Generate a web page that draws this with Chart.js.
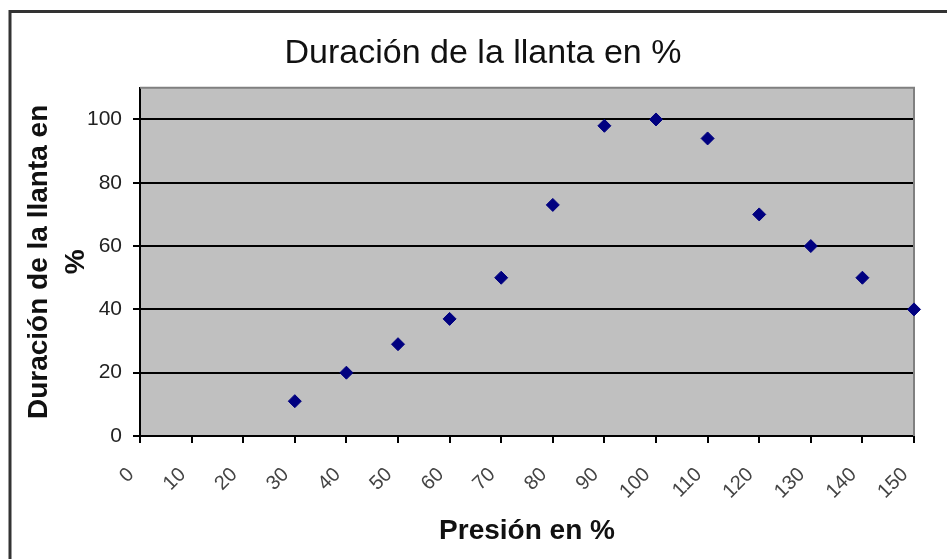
<!DOCTYPE html>
<html>
<head>
<meta charset="utf-8">
<script src="https://cdn.jsdelivr.net/npm/chart.js@4/dist/chart.umd.min.js"></script>
<style>
  html, body { margin: 0; padding: 0; background: #ffffff; }
  #wrap { width: 947px; height: 559px; }
</style>
</head>
<body>
<div id="wrap"><canvas id="c" width="947" height="559"></canvas></div>
<script>
// ---- data ----
const presion = [30, 40, 50, 60, 70, 80, 90, 100, 110, 120, 130, 140, 150];
const duracion = [11, 20, 29, 37, 50, 73, 98, 100, 94, 70, 60, 50, 40];
const xTickValues = [0, 10, 20, 30, 40, 50, 60, 70, 80, 90, 100, 110, 120, 130, 140, 150];
const yTickValues = [0, 20, 40, 60, 80, 100];
const chartTitle = 'Duración de la llanta en %';
const yTitle = ['Duración de la llanta en', '%'];
const xTitle = 'Presión en %';

const points = presion.map((p, i) => ({ x: p, y: duracion[i] }));

const framePlugin = {
  id: 'frame',
  beforeDraw(chart) {
    const { ctx, chartArea: a } = chart;
    ctx.save();
    ctx.fillStyle = '#ffffff';
    ctx.fillRect(0, 0, chart.width, chart.height);
    ctx.strokeStyle = '#333333';
    ctx.lineWidth = 3;
    ctx.strokeRect(10, 11.5, chart.width + 50, chart.height + 50);
    ctx.fillStyle = '#c0c0c0';
    ctx.fillRect(a.left, a.top, a.right - a.left, a.bottom - a.top);
    ctx.restore();
  },
  beforeDatasetsDraw(chart) {
    const { ctx, chartArea: a } = chart;
    ctx.save();
    ctx.strokeStyle = '#808080';
    ctx.lineWidth = 2;
    ctx.beginPath();
    ctx.moveTo(a.left, a.top);
    ctx.lineTo(a.right, a.top);
    ctx.lineTo(a.right, a.bottom);
    ctx.stroke();
    ctx.restore();
  }
};

new Chart(document.getElementById('c'), {
  type: 'scatter',
  data: {
    datasets: [{
      data: points,
      pointStyle: 'rectRot',
      pointRadius: 6.5,
      pointHoverRadius: 6.5,
      backgroundColor: '#000080',
      borderColor: '#000080',
      borderWidth: 1,
      clip: false
    }]
  },
  options: {
    responsive: false,
    animation: false,
    layout: { padding: { left: 52, right: 33, top: 0, bottom: 0 } },
    plugins: {
      legend: { display: false },
      tooltip: { enabled: false },
      title: {
        display: true,
        text: chartTitle,
        color: '#111111',
        font: { family: 'Liberation Sans', size: 34, weight: 'normal', lineHeight: 1.2 },
        padding: { top: 33, bottom: 14 }
      }
    },
    scales: {
      x: {
        type: 'linear',
        min: 0,
        max: 150,
        afterBuildTicks(s) { s.ticks = xTickValues.map(v => ({ value: v })); },
        afterFit(s) { s.height = 123; s.paddingLeft = 0; s.paddingRight = 0; },
        border: { display: true, color: '#000000', width: 2 },
        grid: { drawOnChartArea: false, drawTicks: true, tickLength: 7, color: '#000000', lineWidth: 2 },
        ticks: {
          autoSkip: false,
          minRotation: 45,
          maxRotation: 45,
          padding: 20,
          labelOffset: -9,
          color: '#444444',
          font: { family: 'Liberation Sans', size: 20 }
        },
        title: {
          display: true,
          text: xTitle,
          color: '#111111',
          font: { family: 'Liberation Sans', size: 28, weight: 'bold', lineHeight: 1.2 },
          padding: { top: 0, bottom: 11 }
        }
      },
      y: {
        type: 'linear',
        min: 0,
        max: 110,
        afterBuildTicks(s) { s.ticks = yTickValues.map(v => ({ value: v })); },
        afterFit(s) { s.width = 88; },
        border: { display: true, color: '#000000', width: 2 },
        grid: { drawOnChartArea: true, drawTicks: true, tickLength: 7, color: '#000000', lineWidth: 2 },
        ticks: {
          padding: 11,
          color: '#222222',
          font: { family: 'Liberation Sans', size: 21 }
        },
        title: {
          display: true,
          text: yTitle,
          color: '#111111',
          font: { family: 'Liberation Sans', size: 28, weight: 'bold', lineHeight: 1.35 },
          padding: { top: -32, bottom: 0 }
        }
      }
    }
  },
  plugins: [framePlugin]
});
</script>
</body>
</html>
